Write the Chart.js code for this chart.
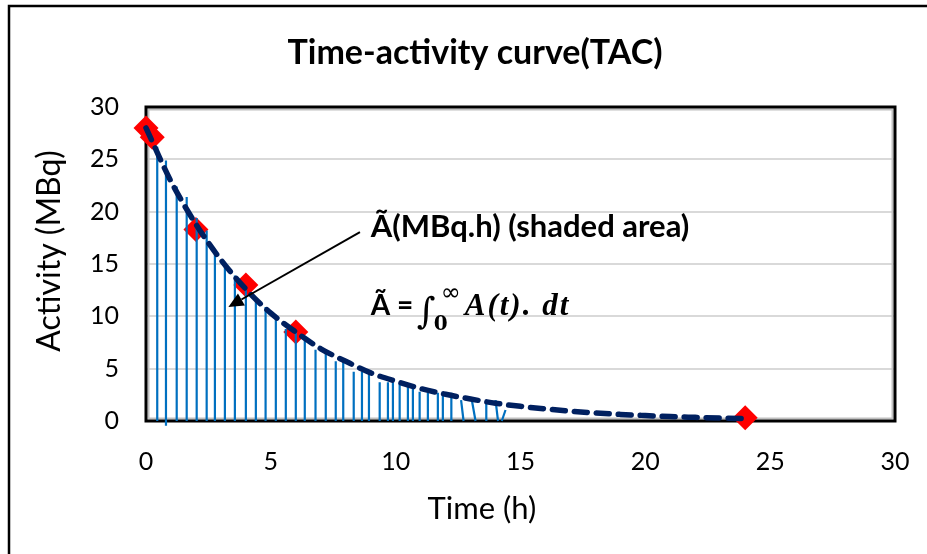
<!DOCTYPE html>
<html>
<head>
<meta charset="utf-8">
<script src="https://cdn.jsdelivr.net/npm/chart.js@4.4.1/dist/chart.umd.min.js"></script>
<style>
  html, body { margin: 0; padding: 0; background: #fff; }
  #wrap { width: 927px; height: 554px; position: relative; }
</style>
</head>
<body>
<div id="wrap"><canvas id="c" width="927" height="554"></canvas></div>
<script>
// ---- Data ----
const measuredTime = [0, 0.25, 2, 4, 6, 24];
const measuredActivity = [28, 27.1, 18.3, 13.0, 8.5, 0.3];

const fitTime = [0, 1, 2, 3, 4, 5, 6, 7, 8, 9, 10, 11, 12, 13, 14, 15, 16, 17, 18, 19, 20, 21, 22, 23, 24];
const fitActivity = [28.0, 22.9, 18.8, 15.4, 12.6, 10.3, 8.5, 6.9, 5.7, 4.6, 3.8, 3.1, 2.55, 2.1, 1.7, 1.4, 1.15, 0.94, 0.77, 0.63, 0.52, 0.42, 0.35, 0.28, 0.23];

// vertical "shading" lines: base x, tip x, tip height, base height
const dropBaseX = [0.45, 0.8, 1.23, 1.63, 2.03, 2.43, 2.76, 3.16, 3.56, 4.0, 4.4, 4.79, 5.2, 5.6, 6.0, 6.36, 6.79, 7.2, 7.6, 7.9, 8.32, 8.65, 8.93, 9.36, 9.69, 9.89, 10.16, 10.49, 10.69, 10.96, 11.29, 11.69, 11.89, 12.23, 12.72, 13.2, 13.63, 14.1, 14.25];
const dropTipX  = [0.45, 0.8, 1.23, 1.63, 2.03, 2.43, 2.76, 3.16, 3.56, 4.0, 4.4, 4.79, 5.2, 5.6, 6.0, 6.36, 6.79, 7.2, 7.6, 7.9, 8.32, 8.65, 8.93, 9.36, 9.69, 9.89, 10.16, 10.49, 10.69, 10.96, 11.29, 11.69, 11.89, 12.23, 12.62, 13.05, 13.63, 14.0, 14.4];
const dropTipY  = [26.2, 24.9, 22.4, 21.4, 19.4, 18.2, 16.0, 14.9, 13.9, 12.8, 11.7, 10.9, 9.8, 8.8, 8.7, 8.0, 6.8, 6.8, 5.7, 5.7, 4.7, 4.7, 4.5, 3.7, 3.7, 3.7, 3.6, 3.3, 3.3, 2.8, 2.7, 2.7, 2.7, 2.7, 2.0, 2.0, 2.0, 2.0, 1.05];
const dropBaseY = [0, -0.45, 0, 0, 0, 0, 0, 0, 0, 0, 0, 0, 0, 0, 0, 0, 0, 0, 0, 0, 0, 0, 0, 0, 0, 0, 0, 0, 0, 0, 0, 0, 0, 0, 0, 0, 0, 0, 0];

const xTicks = [0, 5, 10, 15, 20, 25, 30];
const yTicks = [0, 5, 10, 15, 20, 25, 30];

const titleText = 'Time-activity curve(TAC)';
const xTitle = 'Time (h)';
const yTitle = 'Activity (MBq)';
const annotLabel = 'Ã(MBq.h) (shaded area)';

// ---- build datasets ----
const measuredData = measuredTime.map((t, i) => ({ x: t, y: measuredActivity[i] }));
const fitData = fitTime.map((t, i) => ({ x: t, y: fitActivity[i] }));
const dropData = [];
dropBaseX.forEach((bx, i) => {
  dropData.push({ x: bx, y: dropBaseY[i] });
  dropData.push({ x: dropTipX[i], y: dropTipY[i] });
  dropData.push({ x: dropTipX[i], y: null });
});

const FONT = 'Lato, "Open Sans", sans-serif';

const decorPlugin = {
  id: 'decor',
  beforeDraw(chart) {
    const ctx = chart.ctx;
    ctx.save();
    ctx.fillStyle = '#fff';
    ctx.fillRect(0, 0, chart.width, chart.height);
    ctx.strokeStyle = '#000';
    ctx.lineWidth = 2.5;
    ctx.beginPath();
    ctx.moveTo(9, chart.height);
    ctx.lineTo(9, 6);
    ctx.lineTo(chart.width, 6);
    ctx.stroke();
    // titles
    ctx.fillStyle = '#000';
    ctx.textAlign = 'center';
    ctx.textBaseline = 'alphabetic';
    ctx.font = 'bold 34px ' + FONT;
    ctx.fillText(titleText, 475, 64);
    ctx.font = '31px ' + FONT;
    ctx.fillText(xTitle, 482, 519);
    ctx.save();
    ctx.translate(50, 251);
    ctx.rotate(-Math.PI / 2);
    ctx.textBaseline = 'middle';
    ctx.font = '32px ' + FONT;
    ctx.fillText(yTitle, 0, 0);
    ctx.restore();
    ctx.restore();
  },
  beforeDatasetsDraw(chart) {
    const ctx = chart.ctx, a = chart.chartArea;
    ctx.save();
    ctx.strokeStyle = '#bfbfbf';
    ctx.lineWidth = 2;
    ctx.strokeRect(a.left + 2.5, a.top + 2.5, a.right - a.left - 5, a.bottom - a.top - 5);
    ctx.strokeStyle = '#000';
    ctx.lineWidth = 3;
    ctx.strokeRect(a.left, a.top, a.right - a.left, a.bottom - a.top);
    ctx.restore();
  },
  afterDatasetsDraw(chart) {
    const ctx = chart.ctx;
    const xs = chart.scales.x, ys = chart.scales.y;
    const px = v => xs.getPixelForValue(v), py = v => ys.getPixelForValue(v);
    ctx.save();
    // arrow
    const x1 = px(8.57), y1 = py(18.05), x2 = px(3.3), y2 = py(10.9);
    const ang = Math.atan2(y2 - y1, x2 - x1);
    const hl = 15, hw = 7;
    const bx = x2 - hl * Math.cos(ang), by = y2 - hl * Math.sin(ang);
    ctx.strokeStyle = '#000';
    ctx.fillStyle = '#000';
    ctx.lineWidth = 2;
    ctx.beginPath();
    ctx.moveTo(x1, y1);
    ctx.lineTo(bx, by);
    ctx.stroke();
    ctx.beginPath();
    ctx.moveTo(x2, y2);
    ctx.lineTo(bx + hw * Math.sin(ang), by - hw * Math.cos(ang));
    ctx.lineTo(bx - hw * Math.sin(ang), by + hw * Math.cos(ang));
    ctx.closePath();
    ctx.fill();
    // label
    ctx.textBaseline = 'alphabetic';
    ctx.textAlign = 'left';
    ctx.font = 'bold 31px ' + FONT;
    const lx = px(9.0);
    ctx.fillText(annotLabel, lx, py(17.57));
    // formula
    const fy = py(10.12);
    ctx.font = 'bold 28px ' + FONT;
    ctx.fillText('Ã =', lx, fy);
    ctx.font = '36px "DejaVu Serif", serif';
    ctx.fillText('∫', lx + 46, fy + 8);
    ctx.font = 'bold 20px "DejaVu Serif", serif';
    ctx.fillText('0', lx + 63, fy + 15);
    ctx.font = '24px "DejaVu Sans", sans-serif';
    ctx.fillText('∞', lx + 70, fy - 15);
    ctx.font = 'bold italic 31px "Liberation Serif", serif';
    try { ctx.letterSpacing = '2px'; } catch (e) {}
    ctx.fillText('A(t). dt', lx + 94, fy);
    ctx.restore();
  }
};

function zeroPad(s) { s.paddingLeft = 0; s.paddingRight = 0; s.paddingTop = 0; s.paddingBottom = 0; }

new Chart(document.getElementById('c'), {
  data: {
    datasets: [
      {
        type: 'line',
        label: 'fit',
        data: fitData,
        borderColor: '#002060',
        borderWidth: 5.5,
        borderDash: [13, 9],
        borderCapStyle: 'round',
        cubicInterpolationMode: 'monotone',
        pointRadius: 0,
        fill: false,
        clip: false,
        order: 0
      },
      {
        type: 'line',
        label: 'drops',
        data: dropData,
        borderColor: '#0070C0',
        borderWidth: 2.2,
        pointRadius: 0,
        spanGaps: false,
        fill: false,
        clip: false,
        order: 1
      },
      {
        type: 'scatter',
        label: 'measured',
        data: measuredData,
        pointStyle: 'rectRot',
        pointRadius: 12.5,
        backgroundColor: '#ff0000',
        borderWidth: 0,
        clip: false,
        order: 2
      }
    ]
  },
  options: {
    responsive: false,
    animation: false,
    events: [],
    layout: { padding: { left: 0, right: 32, top: 107, bottom: 0 } },
    plugins: {
      legend: { display: false },
      tooltip: { enabled: false },
      title: { display: false }
    },
    scales: {
      x: {
        type: 'linear',
        min: 0, max: 30,
        afterBuildTicks: s => { s.ticks = xTicks.map(v => ({ value: v })); },
        afterFit: s => { s.height = 554 - 421; zeroPad(s); },
        grid: { display: false, drawTicks: false },
        border: { display: false },
        ticks: { color: '#000', font: { family: FONT, size: 25 }, padding: 26, maxRotation: 0 },
        title: { display: false }
      },
      y: {
        type: 'linear',
        min: 0, max: 30,
        afterBuildTicks: s => { s.ticks = yTicks.map(v => ({ value: v })); },
        afterFit: s => { s.width = 146; zeroPad(s); },
        grid: { color: '#d9d9d9', lineWidth: 2, drawTicks: false },
        border: { display: false },
        ticks: { color: '#000', font: { family: FONT, size: 25 }, padding: 27 },
        title: { display: false }
      }
    }
  },
  plugins: [decorPlugin]
});
</script>
</body>
</html>
